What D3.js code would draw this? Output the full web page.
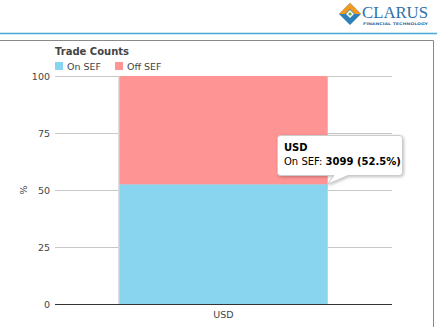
<!DOCTYPE html>
<html>
<head>
<meta charset="utf-8">
<script src="https://cdn.jsdelivr.net/npm/d3@7"></script>
<style>
  body { margin: 0; background: #fff; }
  svg { display: block; font-family: "DejaVu Sans", Verdana, sans-serif; }
</style>
</head>
<body>
<div id="chart"></div>
<script>
// Chart values
const categories = ["USD"];
const seriesNames = ["On SEF", "Off SEF"];
const seriesColors = ["#89d4ef", "#ff9494"];
const onSefPct = [52.5];
const offSefPct = [47.5];
const onSefCount = [3099];
const yTicks = [0, 25, 50, 75, 100];

const width = 440, height = 327;
const margin = { top: 76, right: 48, bottom: 23, left: 55 };

const svg = d3.select("#chart").append("svg")
  .attr("width", width)
  .attr("height", height);

// Header line and logo
svg.append("line")
  .attr("x1", 0).attr("x2", 437).attr("y1", 33.5).attr("y2", 33.5)
  .attr("stroke", "#4aa8d6").attr("stroke-width", 1.5);

const logo = svg.append("g").attr("transform", "translate(350,14)");
logo.append("path").attr("d", "M0,-11 L11,0 L0,11 L-11,0 Z").attr("fill", "#2f7fb8");
logo.append("path").attr("d", "M0,-11 L11,0 L5,0 L0,-5 L-5,0 L-11,0 Z").attr("fill", "#f39a1e");
logo.append("path").attr("d", "M-4,0 L0,-4 L4,0 L0,4 Z").attr("fill", "#fff");
logo.append("path").attr("d", "M-2,0 L0,-2 L2,0 L0,2 Z").attr("fill", "#6bb24a");
svg.append("text")
  .attr("x", 362).attr("y", 18)
  .attr("font-family", "'Liberation Serif', 'DejaVu Serif', serif")
  .attr("font-size", 16).attr("fill", "#2f6fa8")
  .attr("textLength", 66).attr("lengthAdjust", "spacingAndGlyphs")
  .text("CLARUS");
svg.append("text")
  .attr("x", 363).attr("y", 25)
  .attr("font-size", 3.6).attr("font-weight", "bold").attr("fill", "#2f6fa8")
  .attr("textLength", 65).attr("lengthAdjust", "spacingAndGlyphs")
  .text("FINANCIAL TECHNOLOGY");

// Panel border
svg.append("path")
  .attr("d", "M0,40.5 H433.5 V327")
  .attr("fill", "none").attr("stroke", "#8a8a8a").attr("stroke-width", 1);

// Title and legend
svg.append("text")
  .attr("x", 55).attr("y", 55)
  .attr("font-size", 10).attr("font-weight", "bold").attr("fill", "#444")
  .text("Trade Counts");

const legend = svg.append("g").attr("transform", "translate(55,62)");
const legendX = [0, 60];
seriesNames.forEach((name, i) => {
  const item = legend.append("g").attr("transform", `translate(${legendX[i]},0)`);
  item.append("rect").attr("width", 8).attr("height", 8).attr("fill", seriesColors[i]);
  item.append("text").attr("x", 12).attr("y", 8)
    .attr("font-size", 9.5).attr("fill", "#444").text(name);
});

// Scales
const x = d3.scaleBand()
  .domain(categories)
  .range([margin.left, 392])
  .paddingInner(0)
  .paddingOuter(0.31);

const y = d3.scaleLinear()
  .domain([0, 100])
  .range([height - margin.bottom, margin.top]);

// Grid
svg.append("g")
  .selectAll("line")
  .data(yTicks.filter(d => d > 0))
  .join("line")
  .attr("x1", 55).attr("x2", 392)
  .attr("y1", d => Math.round(y(d)) + 0.5)
  .attr("y2", d => Math.round(y(d)) + 0.5)
  .attr("stroke", "#c8c8c8");

// Y axis labels
const yAxis = svg.append("g")
  .attr("transform", `translate(${margin.left - 5},0)`)
  .call(d3.axisLeft(y).tickValues(yTicks).tickSize(0).tickPadding(0));
yAxis.select(".domain").remove();
yAxis.selectAll("text")
  .attr("font-size", 9.5).attr("fill", "#444")
  .attr("font-family", "'DejaVu Sans', Verdana, sans-serif");

svg.append("text")
  .attr("transform", `translate(27,${y(50)}) rotate(-90)`)
  .attr("text-anchor", "middle")
  .attr("font-size", 9.5).attr("fill", "#444")
  .text("%");

// Stacked bars
const stackData = categories.map((c, i) => ({ cat: c, on: onSefPct[i], off: offSefPct[i] }));
const stack = d3.stack().keys(["on", "off"])(stackData);

// bar shadow
svg.append("g")
  .selectAll("rect")
  .data(stackData)
  .join("rect")
  .attr("x", d => x(d.cat) - 1.5)
  .attr("y", d => y(d.on + d.off))
  .attr("width", x.bandwidth() + 2)
  .attr("height", d => y(0) - y(d.on + d.off))
  .attr("fill", "#ddd");

svg.append("g")
  .selectAll("g")
  .data(stack)
  .join("g")
  .attr("fill", (d, i) => seriesColors[i])
  .selectAll("rect")
  .data(d => d)
  .join("rect")
  .attr("x", d => x(d.data.cat))
  .attr("y", d => y(d[1]))
  .attr("width", x.bandwidth())
  .attr("height", d => y(d[0]) - y(d[1]));

// X axis
const xAxis = svg.append("g")
  .attr("transform", `translate(0,${y(0)})`)
  .call(d3.axisBottom(x).tickSize(0).tickPadding(7));
xAxis.select(".domain")
  .attr("stroke", "#333").attr("d", `M55,0.5H392`);
xAxis.selectAll("text")
  .attr("font-size", 9.5).attr("fill", "#444")
  .attr("font-family", "'DejaVu Sans', Verdana, sans-serif");

// Tooltip
const tipX = x(categories[0]) + x.bandwidth();
const tipY = y(onSefPct[0]);
const tip = svg.append("g");
const bx0 = 277.5, bx1 = 402.5, by0 = 135.5, by1 = 175.5;
tip.append("path")
  .attr("d", `M${bx0 + 3},${by0} H${bx1 - 3} Q${bx1},${by0} ${bx1},${by0 + 3} V${by1 - 3} Q${bx1},${by1} ${bx1 - 3},${by1} H348 L${tipX},${tipY} L334,${by1} H${bx0 + 3} Q${bx0},${by1} ${bx0},${by1 - 3} V${by0 + 3} Q${bx0},${by0} ${bx0 + 3},${by0} Z`)
  .attr("fill", "#fff").attr("stroke", "#ccc")
  .style("filter", "drop-shadow(1px 1px 1.5px rgba(0,0,0,0.25))");
tip.append("text")
  .attr("x", 284).attr("y", 151)
  .attr("font-size", 10).attr("font-weight", "bold").attr("fill", "#000")
  .text(categories[0]);
const line2 = tip.append("text")
  .attr("x", 284).attr("y", 165)
  .attr("font-size", 10).attr("fill", "#000");
line2.append("tspan").text(seriesNames[0] + ": ");
line2.append("tspan").attr("font-weight", "bold")
  .text(`${onSefCount[0]} (${onSefPct[0].toFixed(1)}%)`);
</script>
</body>
</html>
